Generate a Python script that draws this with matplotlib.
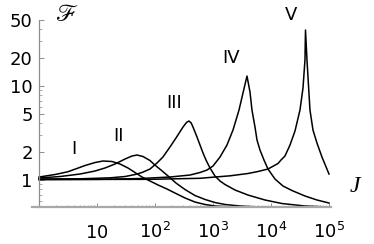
import matplotlib
matplotlib.use("Agg")
import matplotlib.pyplot as plt
from matplotlib.ticker import FixedLocator, NullFormatter

# values (J, F) for each resonance curve
J_I = [1, 1.89, 3.16, 6.21, 9.24, 12.7, 18.1, 24.9, 34.2, 45.2, 59.7, 82, 113, 161,
       221, 329, 489, 728, 1082, 1963, 4345, 21280, 1e5]
F_I = [1.076, 1.144, 1.225, 1.426, 1.535, 1.593, 1.574, 1.48, 1.342, 1.202, 1.076,
       0.976, 0.885, 0.802, 0.727, 0.644, 0.583, 0.549, 0.529, 0.518, 0.514, 0.512, 0.511]

J_II = [1, 2.30, 5.09, 9.24, 13.7, 20.4, 30.4, 40.1, 48.9, 62.1, 82, 99.3, 127, 168,
        230, 329, 489, 728, 1082, 1610, 2924, 6460, 21280, 1e5]
F_II = [1.05, 1.089, 1.158, 1.247, 1.342, 1.48, 1.672, 1.80, 1.845, 1.778, 1.612,
        1.445, 1.277, 1.103, 0.929, 0.792, 0.684, 0.621, 0.576, 0.549, 0.529, 0.516,
        0.512, 0.510]

J_III = [1, 5.09, 16.8, 30.4, 45.2, 59.7, 82, 108, 137, 181, 230, 304, 350, 385, 420,
         452, 530, 597, 673, 757, 887, 1082, 1321, 1610, 2395, 4013, 7880, 15480,
         38550, 1e5]
F_III = [1.025, 1.03, 1.055, 1.089, 1.144, 1.202, 1.309, 1.516, 1.756, 2.244, 2.797,
         3.663, 4.10, 4.243, 4.05, 3.663, 2.866, 2.357, 1.937, 1.632, 1.342, 1.103,
         0.976, 0.896, 0.783, 0.692, 0.613, 0.562, 0.529, 0.516]

J_IV = [1, 11.3, 55.1, 181, 401, 597, 788, 1000, 1321, 1742, 2213, 2808, 3290, 3857,
        4345, 4700, 5297, 5738, 6460, 7570, 8870, 11720, 16110, 23000, 38550, 62070, 1e5]
F_IV = [1.012, 1.017, 1.037, 1.076, 1.13, 1.202, 1.277, 1.409, 1.756, 2.357, 3.403,
        5.554, 8.428, 12.77, 8.63, 5.554, 3.663, 2.665, 2.085, 1.632, 1.309, 1.025,
        0.863, 0.773, 0.676, 0.613, 0.569]

J_V = [1, 82, 597, 1082, 1963, 4013, 5970, 8870, 13210, 14870, 17420, 21280, 25930,
       31620, 35620, 38550, 39340, 41750, 47000, 52970, 62070, 75700, 1e5]
F_V = [1.012, 1.017, 1.043, 1.076, 1.108, 1.173, 1.232, 1.309, 1.498, 1.632, 1.8,
       2.357, 3.32, 5.554, 9.52, 18.9, 39.4, 18.9, 5.554, 3.403, 2.475, 1.756, 1.158]

curves = [(J_I, F_I), (J_II, F_II), (J_III, F_III), (J_IV, F_IV), (J_V, F_V)]
curve_names = ["I", "II", "III", "IV", "V"]
name_pos = [(4.0, 2.14), (23.9, 2.94), (213, 6.54), (2044, 19.9), (22130, 56.9)]

y_ticks = [1, 2, 5, 10, 20, 50]
y_labels = ["1", "2", "5", "10", "20", "50"]
x_ticks = [10, 1e2, 1e3, 1e4, 1e5]
x_labels = [r"$\mathregular{10}$", r"$\mathregular{10^{2}}$", r"$\mathregular{10^{3}}$",
            r"$\mathregular{10^{4}}$", r"$\mathregular{10^{5}}$"]

fig = plt.figure(figsize=(3.74, 2.44), dpi=100)
ax = fig.add_axes([0.0856, 0.1496, 0.885 - 0.0856, 0.920 - 0.1496])
ax.set_xscale("log")
ax.set_yscale("log")

for J, F in curves:
    ax.plot(J, F, color="black", lw=1.1)

ax.set_xlim(0.757, 1.083e5)
ax.set_ylim(0.51, 51)

for s in ["top", "right"]:
    ax.spines[s].set_visible(False)
ax.spines["left"].set_position(("data", 1))
ax.spines["left"].set_color("#8c8c8c")
ax.spines["left"].set_linewidth(0.9)
ax.spines["bottom"].set_color("#a8a8a8")
ax.spines["bottom"].set_linewidth(1.6)

ax.yaxis.set_major_locator(FixedLocator(y_ticks))
ax.set_yticklabels(y_labels)
y_minor = [0.6, 0.7, 0.8, 0.9, 3, 4, 6, 7, 8, 9, 30, 40]
ax.yaxis.set_minor_locator(FixedLocator(y_minor))
ax.yaxis.set_minor_formatter(NullFormatter())

ax.xaxis.set_major_locator(FixedLocator(x_ticks))
ax.set_xticklabels(x_labels)
x_minor = [m * 10 ** k for k in range(0, 5) for m in range(2, 10)]
ax.xaxis.set_minor_locator(FixedLocator(x_minor))
ax.xaxis.set_minor_formatter(NullFormatter())

ax.tick_params(axis="y", which="major", direction="in", length=3.5, width=0.7,
               color="#8c8c8c", pad=4.5, labelsize=13)
ax.tick_params(axis="y", which="minor", direction="in", length=2, width=0.5,
               color="#8c8c8c")
ax.tick_params(axis="x", which="major", direction="in", length=3, width=0.7,
               color="#8c8c8c", pad=22, labelsize=13)
ax.tick_params(axis="x", which="minor", direction="in", length=1.5, width=0.5,
               color="#8c8c8c")
for tl in ax.get_xticklabels():
    tl.set_va("baseline")

for name, (px, py) in zip(curve_names, name_pos):
    ax.text(px, py, name, fontsize=13, ha="center", va="center", clip_on=False)

ax.text(3.04, 56.9, "\u2131", family="STIXGeneral", fontsize=17,
        ha="center", va="center", clip_on=False)
ax.text(2.8e5, 0.843, "J", family="Liberation Serif", style="italic", fontsize=17,
        ha="center", va="center", clip_on=False)

fig.savefig("out.png", dpi=100)
